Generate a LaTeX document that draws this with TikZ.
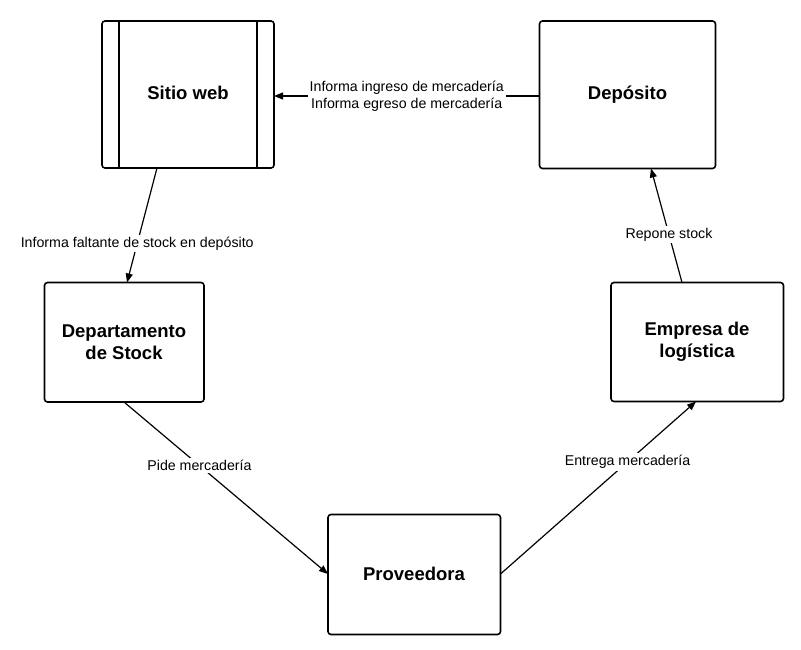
\documentclass[tikz,border=0pt]{standalone}
\usepackage{fontspec}
\setmainfont{Liberation Sans}
\usetikzlibrary{arrows.meta}
\begin{document}
\begin{tikzpicture}[x=1pt,y=-1pt,
  box/.style={draw=black,line width=1.6pt,rounded corners=3pt,fill=white},
  btext/.style={font=\fontsize{18.5}{22}\selectfont\bfseries,align=center},
  conn/.style={line width=1.2pt,-{Triangle[length=9pt,width=7pt]}},
  lbl/.style={fill=white,font=\fontsize{14.2}{16.7}\selectfont,align=center,inner sep=2pt}]
\useasboundingbox (0,0) rectangle (801,650);
% boxes
\draw[box] (102,21) rectangle (274,168);
\draw[line width=1.2pt] (119,21) -- (119,168) (257,21) -- (257,168);
\node[btext] (sw) at (188,93) {Sitio web};
\coordinate (swR) at (274,96);
\coordinate (swB) at (157,168);
\draw[box] (539.5,21) rectangle (715.5,168.5);
\node[btext] (dep) at (627.5,95) {Depósito};
\coordinate (depL) at (539.5,96);
\coordinate (depB) at (651,168.5);
\draw[box] (44.5,282.5) rectangle (204,402);
\node[btext] (ds) at (124,342) {Departamento\\de Stock};
\coordinate (dsT) at (127,282.5);
\coordinate (dsB) at (124,402);
\draw[box] (611,282.5) rectangle (783.5,401.5);
\node[btext] (el) at (697,342) {Empresa de\\logística};
\coordinate (elT) at (682,282.5);
\coordinate (elB) at (696,401.5);
\draw[box] (328,514.5) rectangle (500.5,634.5);
\node[btext] (pr) at (414,574) {Proveedora};
\coordinate (prL) at (328,574);
\coordinate (prR) at (500.5,574);
% connectors
\draw[conn] (depL) -- node[lbl,pos=0.5] {Informa ingreso de mercadería\\Informa egreso de mercadería} (swR);
\draw[conn] (swB) -- node[lbl,pos=0.66] {Informa faltante de stock en depósito} (dsT);
\draw[conn] (dsB) -- node[lbl,pos=0.37] {Pide mercadería} (prL);
\draw[conn] (prR) -- node[lbl,pos=0.65] {Entrega mercadería} (elB);
\draw[conn] (elT) -- node[lbl,pos=0.42] {Repone stock} (depB);
\end{tikzpicture}
\end{document}
